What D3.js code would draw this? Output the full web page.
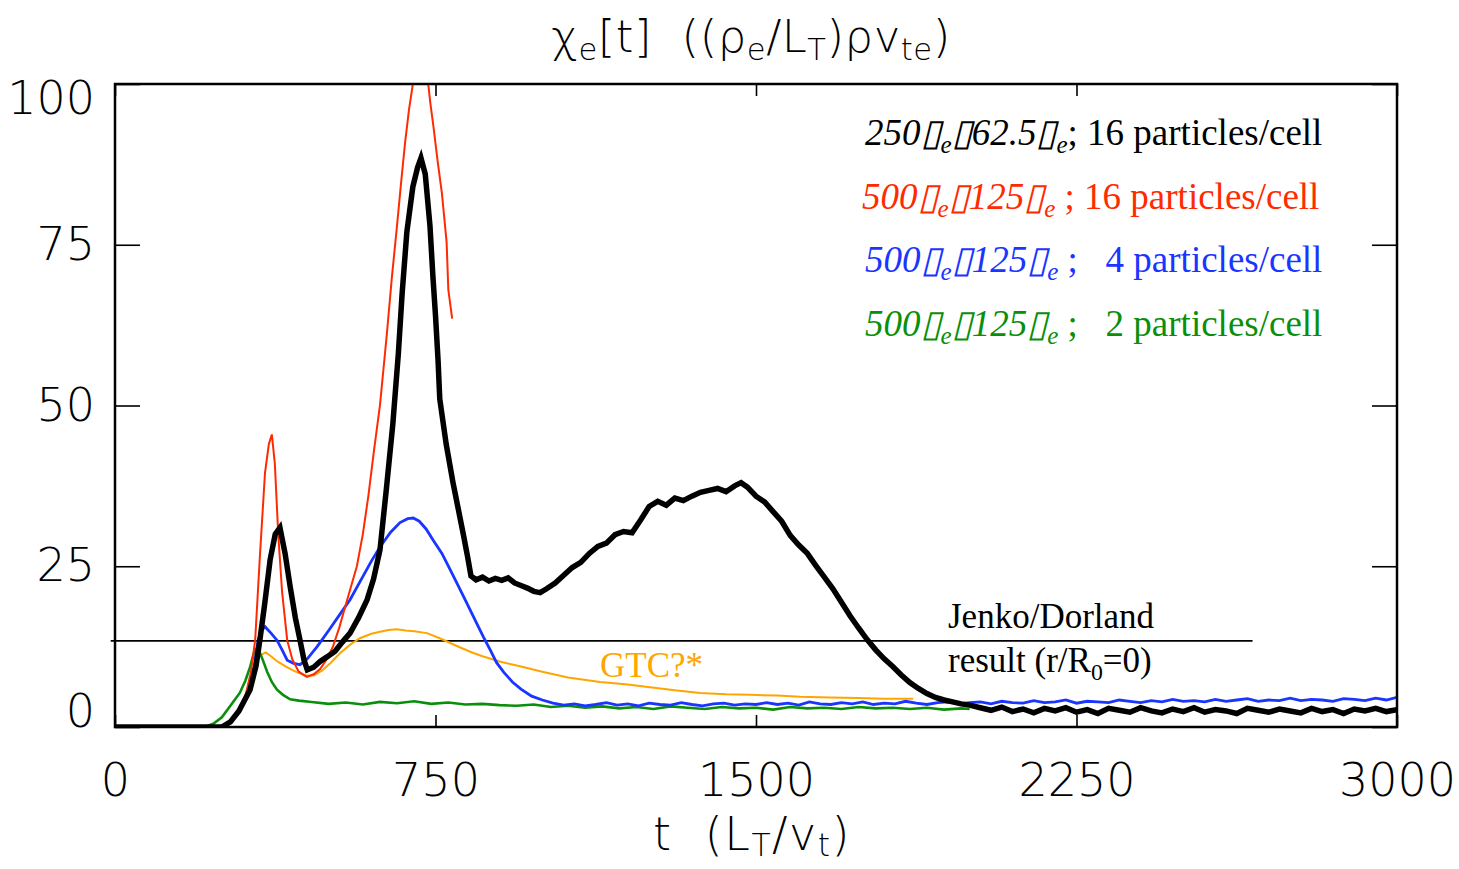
<!DOCTYPE html>
<html>
<head>
<meta charset="utf-8">
<script src="https://cdn.jsdelivr.net/npm/d3@7"></script>
<style>
  body { margin: 0; background: #fff; }
  text { white-space: pre; }
</style>
</head>
<body>
<div id="chart"></div>
<script>
// ---- data ----
const xTicks = [0, 750, 1500, 2250, 3000];
const yTicks = [0, 25, 50, 75, 100];
const jenkoLevel = 13.4;

// 250 rho_e x 62.5 rho_e, 16 particles/cell (black)
const blackTime = [0, 250, 270, 290, 316, 330, 339, 350, 363, 375, 386, 398, 410, 422, 433, 442, 450, 465, 480, 496, 515, 532, 550, 570, 590, 605, 620, 635, 650, 663, 672, 683, 697, 708, 716, 726, 737, 744, 750, 756, 760, 775, 791, 803, 815, 825, 833, 845, 860, 875, 890, 905, 920, 935, 950, 965, 980, 995, 1010, 1030, 1050, 1070, 1090, 1110, 1130, 1150, 1170, 1190, 1210, 1230, 1250, 1270, 1290, 1310, 1330, 1350, 1370, 1390, 1410, 1430, 1450, 1465, 1480, 1500, 1520, 1540, 1560, 1580, 1600, 1620, 1640, 1660, 1680, 1700, 1720, 1740, 1760, 1780, 1800, 1820, 1840, 1860, 1880, 1900, 1920, 1940, 1960, 1980, 2000, 2025, 2050, 2075, 2100, 2125, 2150, 2175, 2200, 2225, 2250, 2275, 2300, 2325, 2350, 2375, 2400, 2425, 2450, 2475, 2500, 2525, 2550, 2575, 2600, 2625, 2650, 2675, 2700, 2725, 2750, 2775, 2800, 2825, 2850, 2875, 2900, 2925, 2950, 2975, 3000];
const blackVal = [0, 0, 0.8, 2.5, 5.8, 9.5, 13.5, 19, 26, 30, 31, 27, 21.8, 17, 13.5, 10.5, 8.9, 9.3, 10.2, 10.9, 11.8, 13.2, 14.6, 17, 19.8, 23, 27.5, 37, 47, 58, 67.5, 77, 84, 87, 88.5, 86, 78, 70, 64, 57, 51, 44, 38, 34, 30, 26.5, 23.5, 22.9, 23.3, 22.7, 23.1, 22.8, 23.2, 22.4, 22.0, 21.6, 21.1, 20.9, 21.5, 22.4, 23.6, 24.8, 25.6, 27.0, 28.1, 28.6, 29.9, 30.4, 30.2, 32.2, 34.3, 35.1, 34.5, 35.6, 35.2, 35.9, 36.5, 36.8, 37.1, 36.6, 37.5, 38.0, 37.3, 35.9, 35.0, 33.5, 32.0, 29.8, 28.3, 27.0, 25.1, 23.3, 21.5, 19.4, 17.3, 15.4, 13.6, 12.0, 10.6, 9.4, 8.1, 6.9, 6.0, 5.2, 4.6, 4.2, 3.9, 3.6, 3.4, 3.0, 2.6, 3.1, 2.4, 2.8, 2.2, 2.9, 2.5, 3.0, 2.3, 2.7, 2.1, 2.9, 2.6, 2.3, 3.0, 2.5, 2.2, 2.8, 2.4, 3.0, 2.3, 2.7, 2.5, 2.1, 2.9, 2.6, 2.3, 2.8, 2.5, 2.2, 2.9, 2.4, 2.7, 2.1, 2.8, 2.5, 2.9, 2.4, 2.7];

// 500 x 125, 16 particles/cell (red)
const redTime = [0, 255, 270, 290, 305, 318, 328, 339, 351, 360, 367, 374, 382, 391, 403, 415, 430, 449, 465, 480, 495, 510, 525, 540, 553, 566, 580, 593, 606, 620, 636, 648, 660, 670, 679, 688, 697, 708, 718, 728, 738, 745, 755, 765, 776, 780, 789];
const redVal = [0, 0, 0.6, 2.2, 4.8, 8.5, 13.5, 26.5, 39.5, 44, 45.5, 41, 30, 21, 13.5, 10.5, 8.6, 7.8, 8.2, 9.0, 10.5, 12.5, 15.5, 19, 22, 25, 30, 36, 43, 50, 61, 70, 78, 85, 91, 96, 100, 103.5, 105, 103, 97, 93.5, 88, 83, 75.4, 68, 63.5];

// 500 x 125, 4 particles/cell (blue)
const blueTime = [0, 240, 262, 282, 300, 316, 327, 335, 343, 351, 365, 379, 391, 403, 418, 433, 450, 473, 500, 525, 550, 575, 600, 620, 645, 667, 685, 698, 712, 728, 745, 765, 784, 803, 823, 843, 862, 878, 893, 910, 930, 950, 975, 1000, 1025, 1050, 1075, 1100, 1125, 1150, 1175, 1200, 1225, 1250, 1275, 1300, 1325, 1350, 1375, 1400, 1425, 1450, 1475, 1500, 1525, 1550, 1575, 1600, 1625, 1650, 1675, 1700, 1725, 1750, 1775, 1800, 1825, 1850, 1875, 1900, 1925, 1950, 1975, 2000, 2025, 2050, 2075, 2100, 2125, 2150, 2175, 2200, 2225, 2250, 2275, 2300, 2325, 2350, 2375, 2400, 2425, 2450, 2475, 2500, 2525, 2550, 2575, 2600, 2625, 2650, 2675, 2700, 2725, 2750, 2775, 2800, 2825, 2850, 2875, 2900, 2925, 2950, 2975, 3000];
const blueVal = [0, 0, 0.5, 1.8, 3.8, 6.5, 10, 13.5, 15, 15.6, 14.6, 13.5, 12, 10.4, 9.9, 9.7, 10.6, 12.5, 15, 17.4, 19.8, 22.8, 25.8, 28, 30.3, 31.8, 32.4, 32.5, 32.0, 30.8, 29, 27, 24.5, 22, 19.3, 16.6, 14, 12, 10, 8.5, 7.0, 5.9, 4.8, 4.2, 3.7, 3.4, 3.6, 3.3, 3.5, 3.8, 3.4, 3.6, 3.3, 3.7, 3.5, 3.4, 3.8, 3.5, 3.3, 3.6, 3.7, 3.4, 3.6, 3.5, 3.8, 3.5, 3.7, 3.4, 3.9, 3.6, 3.5, 3.8, 3.6, 3.9, 3.5, 3.7, 3.6, 4.0, 3.7, 3.5, 3.8, 3.9, 3.6, 3.8, 3.9, 3.6, 4.0, 3.8, 3.7, 4.1, 3.8, 3.9, 4.2, 3.7, 4.0, 3.9, 3.8, 4.2, 4.0, 3.8, 4.1, 3.9, 4.3, 4.0, 4.1, 3.9, 4.3, 4.0, 4.2, 4.4, 4.0, 4.2, 4.1, 4.5, 4.1, 4.3, 4.2, 4.0, 4.4, 4.3, 4.1, 4.5, 4.2, 4.6];

// 500 x 125, 2 particles/cell (green)
const greenTime = [0, 210, 230, 250, 270, 292, 305, 316, 325, 332, 340, 346, 356, 367, 379, 393, 410, 430, 460, 500, 540, 580, 620, 660, 700, 740, 780, 820, 860, 900, 940, 980, 1020, 1060, 1100, 1140, 1180, 1220, 1260, 1300, 1340, 1380, 1420, 1460, 1500, 1540, 1580, 1620, 1660, 1700, 1740, 1780, 1820, 1860, 1900, 1940, 1980, 2000];
const greenVal = [0, 0, 0.5, 1.5, 3.3, 5.3, 7.2, 9.3, 11.5, 12.3, 11.4, 10.4, 8.6, 7.0, 5.8, 5.0, 4.3, 4.1, 3.9, 3.6, 3.8, 3.5, 3.9, 3.7, 4.0, 3.6, 3.8, 3.5, 3.6, 3.4, 3.3, 3.5, 3.1, 3.3, 3.0, 3.2, 2.9, 3.1, 2.8, 3.2, 3.0, 2.8, 3.1, 2.9, 3.0, 2.7, 3.1, 2.9, 3.0, 2.8, 3.1, 2.9, 3.0, 2.8, 3.0, 2.7, 2.9, 2.8];

// GTC (orange)
const gtcTime = [344, 353, 365, 380, 400, 420, 445, 465, 485, 505, 527, 550, 573, 600, 620, 640, 660, 680, 700, 730, 760, 800, 831, 860, 900, 950, 1000, 1060, 1135, 1200, 1252, 1310, 1369, 1430, 1486, 1550, 1603, 1673, 1740, 1800, 1868];
const gtcVal = [11.3, 11.6, 11.0, 10.2, 9.4, 8.7, 8.0, 8.0, 8.8, 10.0, 11.5, 12.8, 13.8, 14.5, 14.8, 15.1, 15.2, 15.0, 14.9, 14.6, 13.8, 12.6, 11.7, 11.0, 10.2, 9.4, 8.6, 7.7, 7.0, 6.6, 6.2, 5.7, 5.3, 5.1, 5.0, 4.9, 4.7, 4.6, 4.5, 4.4, 4.4];

const W = 1459, H = 869;
const margin = { top: 84, right: 62, bottom: 142, left: 115 };

const svg = d3.select("#chart").append("svg")
    .attr("width", W)
    .attr("height", H);

const x = d3.scaleLinear().domain([0, 3000]).range([margin.left, W - margin.right]);
const y = d3.scaleLinear().domain([0, 100]).range([H - margin.bottom, margin.top]);

const tickFont = "'DejaVu Sans', sans-serif";
const serif = "'Liberation Serif', 'Times New Roman', serif";

// clip so the red peak is cut at 100
svg.append("defs").append("clipPath").attr("id", "plotclip")
    .append("rect")
    .attr("x", x(0)).attr("y", y(100))
    .attr("width", x(3000) - x(0)).attr("height", y(0) - y(100));

// Jenko/Dorland reference level
svg.append("line")
    .attr("x1", x(-10)).attr("x2", x(2662))
    .attr("y1", y(jenkoLevel)).attr("y2", y(jenkoLevel))
    .attr("stroke", "#000").attr("stroke-width", 1.6);

// series
const series = [
    { t: greenTime, v: greenVal, color: "#0a8f0a", w: 2.6 },
    { t: gtcTime, v: gtcVal, color: "#ffa500", w: 2 },
    { t: blueTime, v: blueVal, color: "#1a35ff", w: 2.8 },
    { t: redTime, v: redVal, color: "#ff2b00", w: 2 },
    { t: blackTime, v: blackVal, color: "#000", w: 5.5 }
];

const line = d3.line()
    .x(d => x(d[0]))
    .y(d => y(d[1]));

const plot = svg.append("g").attr("clip-path", "url(#plotclip)");
series.forEach(s => {
    plot.append("path")
        .datum(d3.zip(s.t, s.v))
        .attr("fill", "none")
        .attr("stroke", s.color)
        .attr("stroke-width", s.w)
        .attr("stroke-linejoin", "miter")
        .attr("d", line);
});

// axes: ticks point inward on all four sides
const axBottom = svg.append("g")
    .attr("transform", `translate(0,${y(0)})`)
    .call(d3.axisBottom(x).tickValues(xTicks).tickFormat(d3.format("d"))
        .tickSizeInner(-12).tickSizeOuter(0).tickPadding(36));
const axTop = svg.append("g")
    .attr("transform", `translate(0,${y(100)})`)
    .call(d3.axisTop(x).tickValues(xTicks).tickSizeInner(-12).tickSizeOuter(0).tickFormat(""));
const axLeft = svg.append("g")
    .attr("transform", `translate(${x(0)},0)`)
    .call(d3.axisLeft(y).tickValues(yTicks).tickSizeInner(-25).tickSizeOuter(0).tickPadding(20));
const axRight = svg.append("g")
    .attr("transform", `translate(${x(3000)},0)`)
    .call(d3.axisRight(y).tickValues(yTicks).tickSizeInner(-25).tickSizeOuter(0).tickFormat(""));

[axBottom, axTop, axLeft, axRight].forEach(g => {
    g.select(".domain").remove();
    g.selectAll(".tick line").attr("stroke", "#000").attr("stroke-width", 1.6);
    g.selectAll("text")
        .attr("font-family", tickFont)
        .attr("font-weight", 200)
        .attr("font-size", 46)
        .attr("fill", "#000");
});
// end labels sit inside the frame range
axLeft.selectAll(".tick text")
    .attr("transform", d => d === 0 ? "translate(0,-15)" : d === 100 ? "translate(0,15)" : null);

// frame
svg.append("rect")
    .attr("x", x(0)).attr("y", y(100))
    .attr("width", x(3000) - x(0)).attr("height", y(0) - y(100))
    .attr("fill", "none").attr("stroke", "#000").attr("stroke-width", 2.5);

// text with subscript parts
function rich(xp, yp, parts, opts) {
    const t = svg.append("text")
        .attr("x", xp).attr("y", yp)
        .attr("font-family", opts.font)
        .attr("font-size", opts.size)
        .attr("font-weight", opts.weight || null)
        .attr("letter-spacing", opts.spacing || null)
        .attr("fill", opts.color || "#000")
        .attr("text-anchor", opts.anchor || "start");
    let shift = 0;
    parts.forEach(p => {
        const want = p.sub ? opts.sub : 0;
        t.append("tspan")
            .attr("dy", want - shift)
            .attr("font-size", p.sub ? opts.size * 0.68 : null)
            .attr("font-style", p.i ? "italic" : null)
            .text(p.t);
        shift = want;
    });
    return t;
}

// title
rich(751, 52, [
    { t: "χ" }, { t: "e", sub: true }, { t: "[t]  ((ρ" }, { t: "e", sub: true },
    { t: "/L" }, { t: "T", sub: true }, { t: ")ρv" }, { t: "te", sub: true }, { t: ")" }
], { font: tickFont, size: 45, weight: 200, sub: 8, spacing: 0.5, anchor: "middle" });

// x axis label
rich(752, 850, [
    { t: "t  (L" }, { t: "T", sub: true }, { t: "/v" }, { t: "t", sub: true }, { t: ")" }
], { font: tickFont, size: 46, weight: 200, sub: 6, spacing: 1.5, anchor: "middle" });

// legend
const legendRows = [
    { color: "#000", x: 865, y: 145, parts: [
        { t: "250", i: true }, { t: "▯", i: true }, { t: "e", i: true, sub: true }, { t: "▯", i: true },
        { t: "62.5", i: true }, { t: "▯", i: true }, { t: "e", i: true, sub: true }, { t: "; 16 particles/cell" }] },
    { color: "#ff2b00", x: 862, y: 209, parts: [
        { t: "500", i: true }, { t: "▯", i: true }, { t: "e", i: true, sub: true }, { t: "▯", i: true },
        { t: "125", i: true }, { t: "▯", i: true }, { t: "e", i: true, sub: true }, { t: " ; 16 particles/cell" }] },
    { color: "#1a35ff", x: 865, y: 272, parts: [
        { t: "500", i: true }, { t: "▯", i: true }, { t: "e", i: true, sub: true }, { t: "▯", i: true },
        { t: "125", i: true }, { t: "▯", i: true }, { t: "e", i: true, sub: true }, { t: " ;   4 particles/cell" }] },
    { color: "#0a8f0a", x: 865, y: 336, parts: [
        { t: "500", i: true }, { t: "▯", i: true }, { t: "e", i: true, sub: true }, { t: "▯", i: true },
        { t: "125", i: true }, { t: "▯", i: true }, { t: "e", i: true, sub: true }, { t: " ;   2 particles/cell" }] }
];
legendRows.forEach(r => rich(r.x, r.y, r.parts, { font: serif, size: 37, sub: 8, color: r.color }));

// annotations
rich(948, 628, [{ t: "Jenko/Dorland" }], { font: serif, size: 35, sub: 0 });
rich(948, 672, [{ t: "result (r/R" }, { t: "0", sub: true }, { t: "=0)" }], { font: serif, size: 35, sub: 8 });
rich(600, 677, [{ t: "GTC?*" }], { font: serif, size: 35, sub: 0, color: "#ffa500" });
</script>
</body>
</html>
